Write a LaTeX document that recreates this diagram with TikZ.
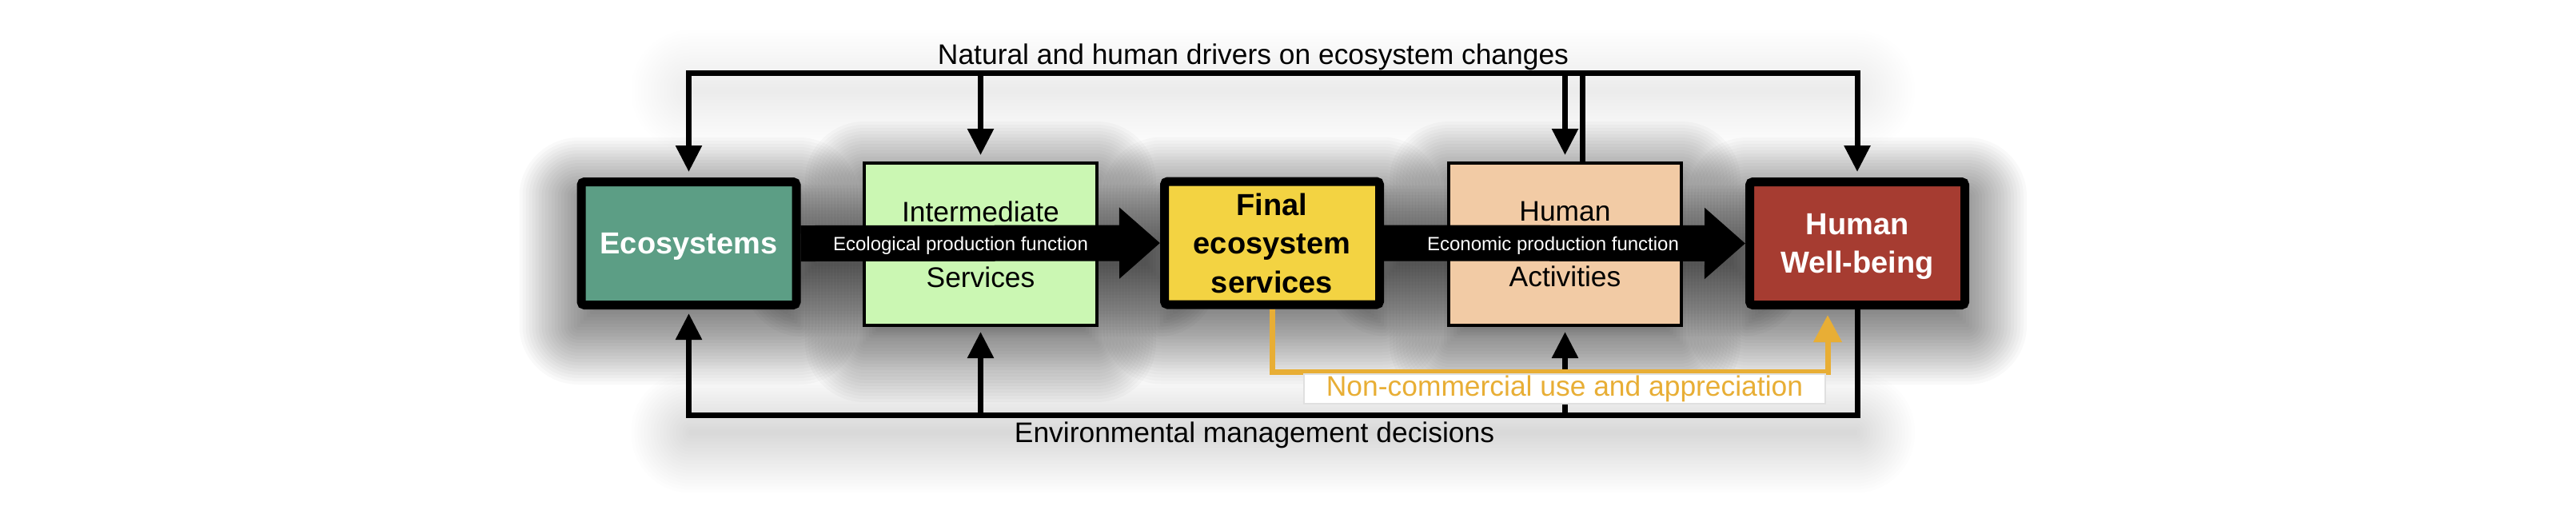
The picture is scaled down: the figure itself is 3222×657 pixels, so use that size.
\documentclass[tikz,border=0pt]{standalone}
\usepackage{fontspec}
\setmainfont{Liberation Sans}
\usetikzlibrary{arrows.meta,calc}
\pgfdeclarelayer{background}
\pgfsetlayers{background,main}
\definecolor{ecoC}{HTML}{5C9E85}
\definecolor{intC}{HTML}{CBF7B3}
\definecolor{finC}{HTML}{F3D342}
\definecolor{actC}{HTML}{F2CBA5}
\definecolor{wbC}{HTML}{A63C31}
\definecolor{orC}{HTML}{E8AE35}
% #1 first step, #2 south west, #3 north east, #4 opacity per layer
\newcommand\softshadow[4]{%
  \foreach \k in {#1,...,18}{%
    \pgfmathsetmacro\rr{\k*1.0}%
    \pgfmathsetmacro\rc{max(\k,0)*1.0+0.5}%
    \fill[black,opacity=#4,rounded corners=\rc pt]
      ([shift={(-\rr pt,-\rr pt-5.5pt)}]#2) rectangle ([shift={(\rr pt,\rr pt-5.5pt)}]#3);
  }}
\begin{document}
\begin{tikzpicture}[x=0.25pt,y=-0.25pt,
  thickbox/.style={draw=black,line width=2.75pt,minimum width=67.25pt,minimum height=38.5pt,
    inner sep=0pt,align=center,text depth=0pt,rounded corners=1pt,
    font=\bfseries\fontsize{9.5}{12.1}\selectfont},
  thinbox/.style={draw=black,line width=1pt,minimum width=72.75pt,minimum height=50.75pt,
    inner sep=0pt,align=center,font=\fontsize{8.85}{10.6}\selectfont},
  conn/.style={line width=1.75pt,draw=black},
  blkTip/.tip={Triangle[length=8.25pt,width=7.9pt]},
  band/.style={line width=11.25pt,draw=black,-{Triangle[length=12.75pt,width=21.5pt]}},
  bandlabel/.style={text=white,font=\fontsize{6}{7}\selectfont,inner sep=0pt,anchor=base},
  plain/.style={font=\fontsize{8.85}{10.6}\selectfont,inner sep=0pt,anchor=base},
]
\useasboundingbox (0,0) rectangle (3222,657);

% boxes
\node[thickbox,fill=ecoC,text=white] (eco) at (861.5,304.5) {Ecosystems};
\node[thinbox,fill=intC] (int) at (1226.5,305.5) {Intermediate\\[9.9pt]Services};
\node[thickbox,fill=finC] (fin) at (1591,304) {Final\\ecosystem\\services};
\node[thinbox,fill=actC] (act) at (1957.5,305.5) {Human\\[9.9pt]Activities};
\node[thickbox,fill=wbC,text=white] (wb) at (2323,304.5) {Human\\Well-being};

\coordinate (topy) at (0,91);
\coordinate (boty) at (0,519);
\coordinate (ory) at (0,465);

% drivers (top)
\draw[conn,{blkTip}-{blkTip},shorten <=1.75pt,shorten >=1.75pt]
  (eco.north) -- (eco.north |- topy) -- (wb.north |- topy) -- (wb.north);
\draw[conn,-{blkTip},shorten >=2pt] (int.north |- topy) -- (int.north);
\draw[conn,-{blkTip},shorten >=2pt] (act.north |- topy) -- (act.north);
\draw[conn] ([xshift=5.6pt]act.north) -- ([xshift=5.6pt]act.north |- topy);

% management decisions (bottom)
\draw[conn,-{blkTip},shorten >=1.25pt]
  (wb.south) -- (wb.south |- boty) -- (eco.south |- boty) -- (eco.south);
\draw[conn,-{blkTip},shorten >=1.5pt] (int.south |- boty) -- (int.south);
\draw[conn,-{blkTip},shorten >=1.5pt] (act.south |- boty) -- (act.south);

% non-commercial use
\draw[conn,draw=orC,-{Triangle[length=8.5pt,width=8.5pt]},shorten >=1.75pt]
  (fin.south) -- (fin.south |- ory) -| ([xshift=-9.25pt]wb.south);

% production functions
\draw[band] (eco.east) -- (fin.west);
\draw[band] (fin.east) -- (wb.west);
\node[bandlabel] (el) at (1201.5,313.5) {Ecological production function};
\node[bandlabel] (ecl) at (1942.5,313.5) {Economic production function};

% labels
\node[plain] (drv) at (1567.5,80) {Natural and human drivers on ecosystem changes};
\node[plain] (emd) at (1569,553) {Environmental management decisions};
\node[fill=white,draw=black!12,line width=0.4pt,text=orC,font=\fontsize{8.85}{10.6}\selectfont,
  minimum width=163pt,minimum height=9.25pt,inner sep=0pt] (ncl) at (1957,486.5)
  {Non-commercial use and appreciation};

% shadows
\begin{pgfonlayer}{background}
\fill[white] (0,0) rectangle (3222,657);
\softshadow{-10}{eco.south west}{eco.north east}{0.022}
\softshadow{-10}{int.south west}{int.north east}{0.022}
\softshadow{-10}{fin.south west}{fin.north east}{0.022}
\softshadow{-10}{act.south west}{act.north east}{0.022}
\softshadow{-10}{wb.south west}{wb.north east}{0.022}
\coordinate (b1sw) at ([yshift=-5.6pt]eco.east);
\coordinate (b1ne) at ([yshift=5.6pt]fin.west);
\coordinate (b2sw) at ([yshift=-5.6pt]fin.east);
\coordinate (b2ne) at ([yshift=5.6pt]wb.west);
\softshadow{-4}{b1sw}{b1ne}{0.022}
\softshadow{-4}{b2sw}{b2ne}{0.022}
\coordinate (t1) at ([yshift=-0.9pt]eco.north |- topy);
\coordinate (t2) at ([yshift=0.9pt]wb.north |- topy);
\softshadow{0}{t1}{t2}{0.004}
\coordinate (u1) at ([yshift=-0.9pt]eco.south |- boty);
\coordinate (u2) at ([yshift=0.9pt]wb.south |- boty);
\softshadow{0}{u1}{u2}{0.006}
\end{pgfonlayer}
\end{tikzpicture}
\end{document}
